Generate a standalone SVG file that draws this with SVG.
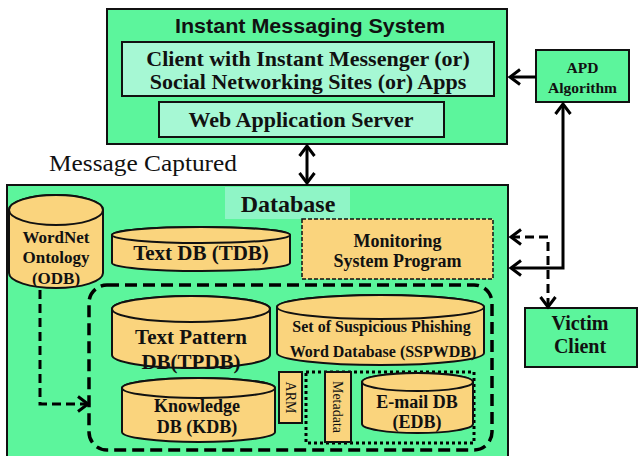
<svg xmlns="http://www.w3.org/2000/svg" width="638" height="456" viewBox="0 0 638 456">
<defs>
<style>
.g{fill:#5cf59c;stroke:#111;stroke-width:2}
.lg{fill:#a6f8d4;stroke:#111;stroke-width:2}
.cy{fill:#fad47d;stroke:#111;stroke-width:2}
.tb{font-family:"Liberation Serif","Times New Roman",serif;font-weight:bold;fill:#111;text-anchor:middle}
.tr{font-family:"Liberation Serif","Times New Roman",serif;fill:#111;text-anchor:middle}
.ln{fill:none;stroke:#000;stroke-width:3}
.ds{fill:none;stroke:#000;stroke-width:3;stroke-dasharray:9 5}
</style>
<marker id="ah" markerUnits="userSpaceOnUse" markerWidth="20" markerHeight="20" viewBox="0 0 20 20" refX="15" refY="10" orient="auto-start-reverse">
<path d="M5,2.5 L15,10 L5,17.5" fill="none" stroke="#000" stroke-width="3"/>
</marker>
</defs>

<g id="ims">
<rect class="g" x="107" y="9" width="400" height="135"/>
<text x="310" y="33" font-family="'Liberation Sans',Arial,sans-serif" font-weight="bold" font-size="20" text-anchor="middle" fill="#111" textLength="270" lengthAdjust="spacingAndGlyphs">Instant Messaging System</text>
</g>
<g id="client">
<rect class="lg" x="122" y="42" width="372" height="54"/>
<text class="tb" x="308" y="66" font-size="22">Client with Instant Messenger (or)</text>
<text class="tb" x="308" y="89" font-size="22">Social Networking Sites (or) Apps</text>
</g>
<g id="webserver">
<rect class="lg" x="159" y="102" width="285" height="35"/>
<text class="tb" x="301" y="127" font-size="22">Web Application Server</text>
</g>
<g id="apd">
<rect class="g" x="536" y="50" width="93" height="52"/>
<text class="tb" x="582.5" y="73" font-size="15.5">APD</text>
<text class="tb" x="582.5" y="93" font-size="15.5">Algorithm</text>
</g>
<g id="msgcap">
<text class="tr" x="143" y="171" font-size="24" textLength="188" lengthAdjust="spacingAndGlyphs">Message Captured</text>
</g>
<g id="database">
<rect class="g" x="7" y="185" width="501" height="275"/>
<rect x="225" y="187" width="125" height="32" fill="#8ff5c6"/>
<text class="tb" x="288" y="212" font-size="24">Database</text>
</g>
<g id="victim">
<rect class="g" x="525" y="308" width="112" height="59"/>
<text class="tb" x="580" y="330" font-size="20">Victim</text>
<text class="tb" x="580" y="353" font-size="20">Client</text>
</g>
<g id="odb">
<path class="cy" d="M9,210 A47,15 0 0 1 103,210 V273 A47,15 0 0 1 9,273 Z"/>
<ellipse class="cy" cx="56" cy="210" rx="47" ry="15"/>
<text class="tb" x="56" y="243" font-size="17">WordNet</text>
<text class="tb" x="56" y="263" font-size="17">Ontology</text>
<text class="tb" x="56" y="284" font-size="17">(ODB)</text>
</g>
<g id="tdb">
<path class="cy" d="M112,235 A89,8 0 0 1 290,235 V263 A89,8 0 0 1 112,263 Z"/>
<ellipse class="cy" cx="201" cy="235" rx="89" ry="8"/>
<text class="tb" x="201" y="260" font-size="21">Text DB (TDB)</text>
</g>
<g id="monitor">
<rect x="302" y="219" width="191" height="60" fill="#fad47d" stroke="#111" stroke-width="1.5" stroke-dasharray="4 2"/>
<text class="tb" x="397.5" y="247" font-size="18">Monitoring</text>
<text class="tb" x="397.5" y="267" font-size="18">System Program</text>
</g>
<g id="group">
<rect x="89" y="285" width="403" height="165" rx="18" fill="none" stroke="#000" stroke-width="3.5" stroke-dasharray="12 6"/>
</g>
<g id="tpdb">
<path class="cy" d="M112,309 A79,13 0 0 1 270,309 V355 A79,13 0 0 1 112,355 Z"/>
<ellipse class="cy" cx="191" cy="309" rx="79" ry="13"/>
<text class="tb" x="191" y="344" font-size="21">Text Pattern</text>
<text class="tb" x="191" y="369" font-size="21">DB(TPDB)</text>
</g>
<g id="sspwdb">
<path class="cy" d="M277,307 A103.5,12 0 0 1 484,307 V353 A103.5,12 0 0 1 277,353 Z"/>
<ellipse class="cy" cx="380.5" cy="307" rx="103.5" ry="12"/>
<text class="tb" x="381.5" y="332" font-size="16">Set of Suspicious Phishing</text>
<text class="tb" x="383" y="357" font-size="16">Word Database (SSPWDB)</text>
</g>
<g id="kdb">
<path class="cy" d="M122,388 A76.5,10 0 0 1 275,388 V432 A76.5,10 0 0 1 122,432 Z"/>
<ellipse class="cy" cx="198.5" cy="388" rx="76.5" ry="10"/>
<text class="tb" x="197" y="412" font-size="18">Knowledge</text>
<text class="tb" x="197" y="433" font-size="18">DB (KDB)</text>
</g>
<g id="arm">
<rect class="cy" x="279" y="372" width="23" height="51"/>
<text class="tr" font-size="14" transform="translate(286,397.5) rotate(90)" y="0">ARM</text>
</g>
<g id="edbgroup">
<rect x="306" y="372" width="168" height="71" fill="none" stroke="#000" stroke-width="3" stroke-dasharray="3 3"/>
</g>
<g id="metadata">
<rect class="cy" x="325" y="372" width="26" height="70"/>
<text class="tr" font-size="14" transform="translate(333,407) rotate(90)" y="0">Metadata</text>
</g>
<g id="edb">
<path class="cy" d="M362,382 A55.5,9 0 0 1 473,382 V424 A55.5,9 0 0 1 362,424 Z"/>
<ellipse class="cy" cx="417.5" cy="382" rx="55.5" ry="9"/>
<text class="tb" x="417" y="408" font-size="18">E-mail DB</text>
<text class="tb" x="417" y="428" font-size="18">(EDB)</text>
</g>

<g id="connectors">
<line class="ln" x1="307" y1="146" x2="307" y2="183" marker-start="url(#ah)" marker-end="url(#ah)"/>
<line class="ln" x1="536" y1="77" x2="510" y2="77" marker-end="url(#ah)"/>
<path class="ln" d="M511,268 H563 V104" marker-start="url(#ah)" marker-end="url(#ah)"/>
<path class="ds" d="M511,237 H548 V307" marker-start="url(#ah)" marker-end="url(#ah)"/>
<path class="ds" d="M40,290 V404 H88" marker-end="url(#ah)"/>
</g>
</svg>
